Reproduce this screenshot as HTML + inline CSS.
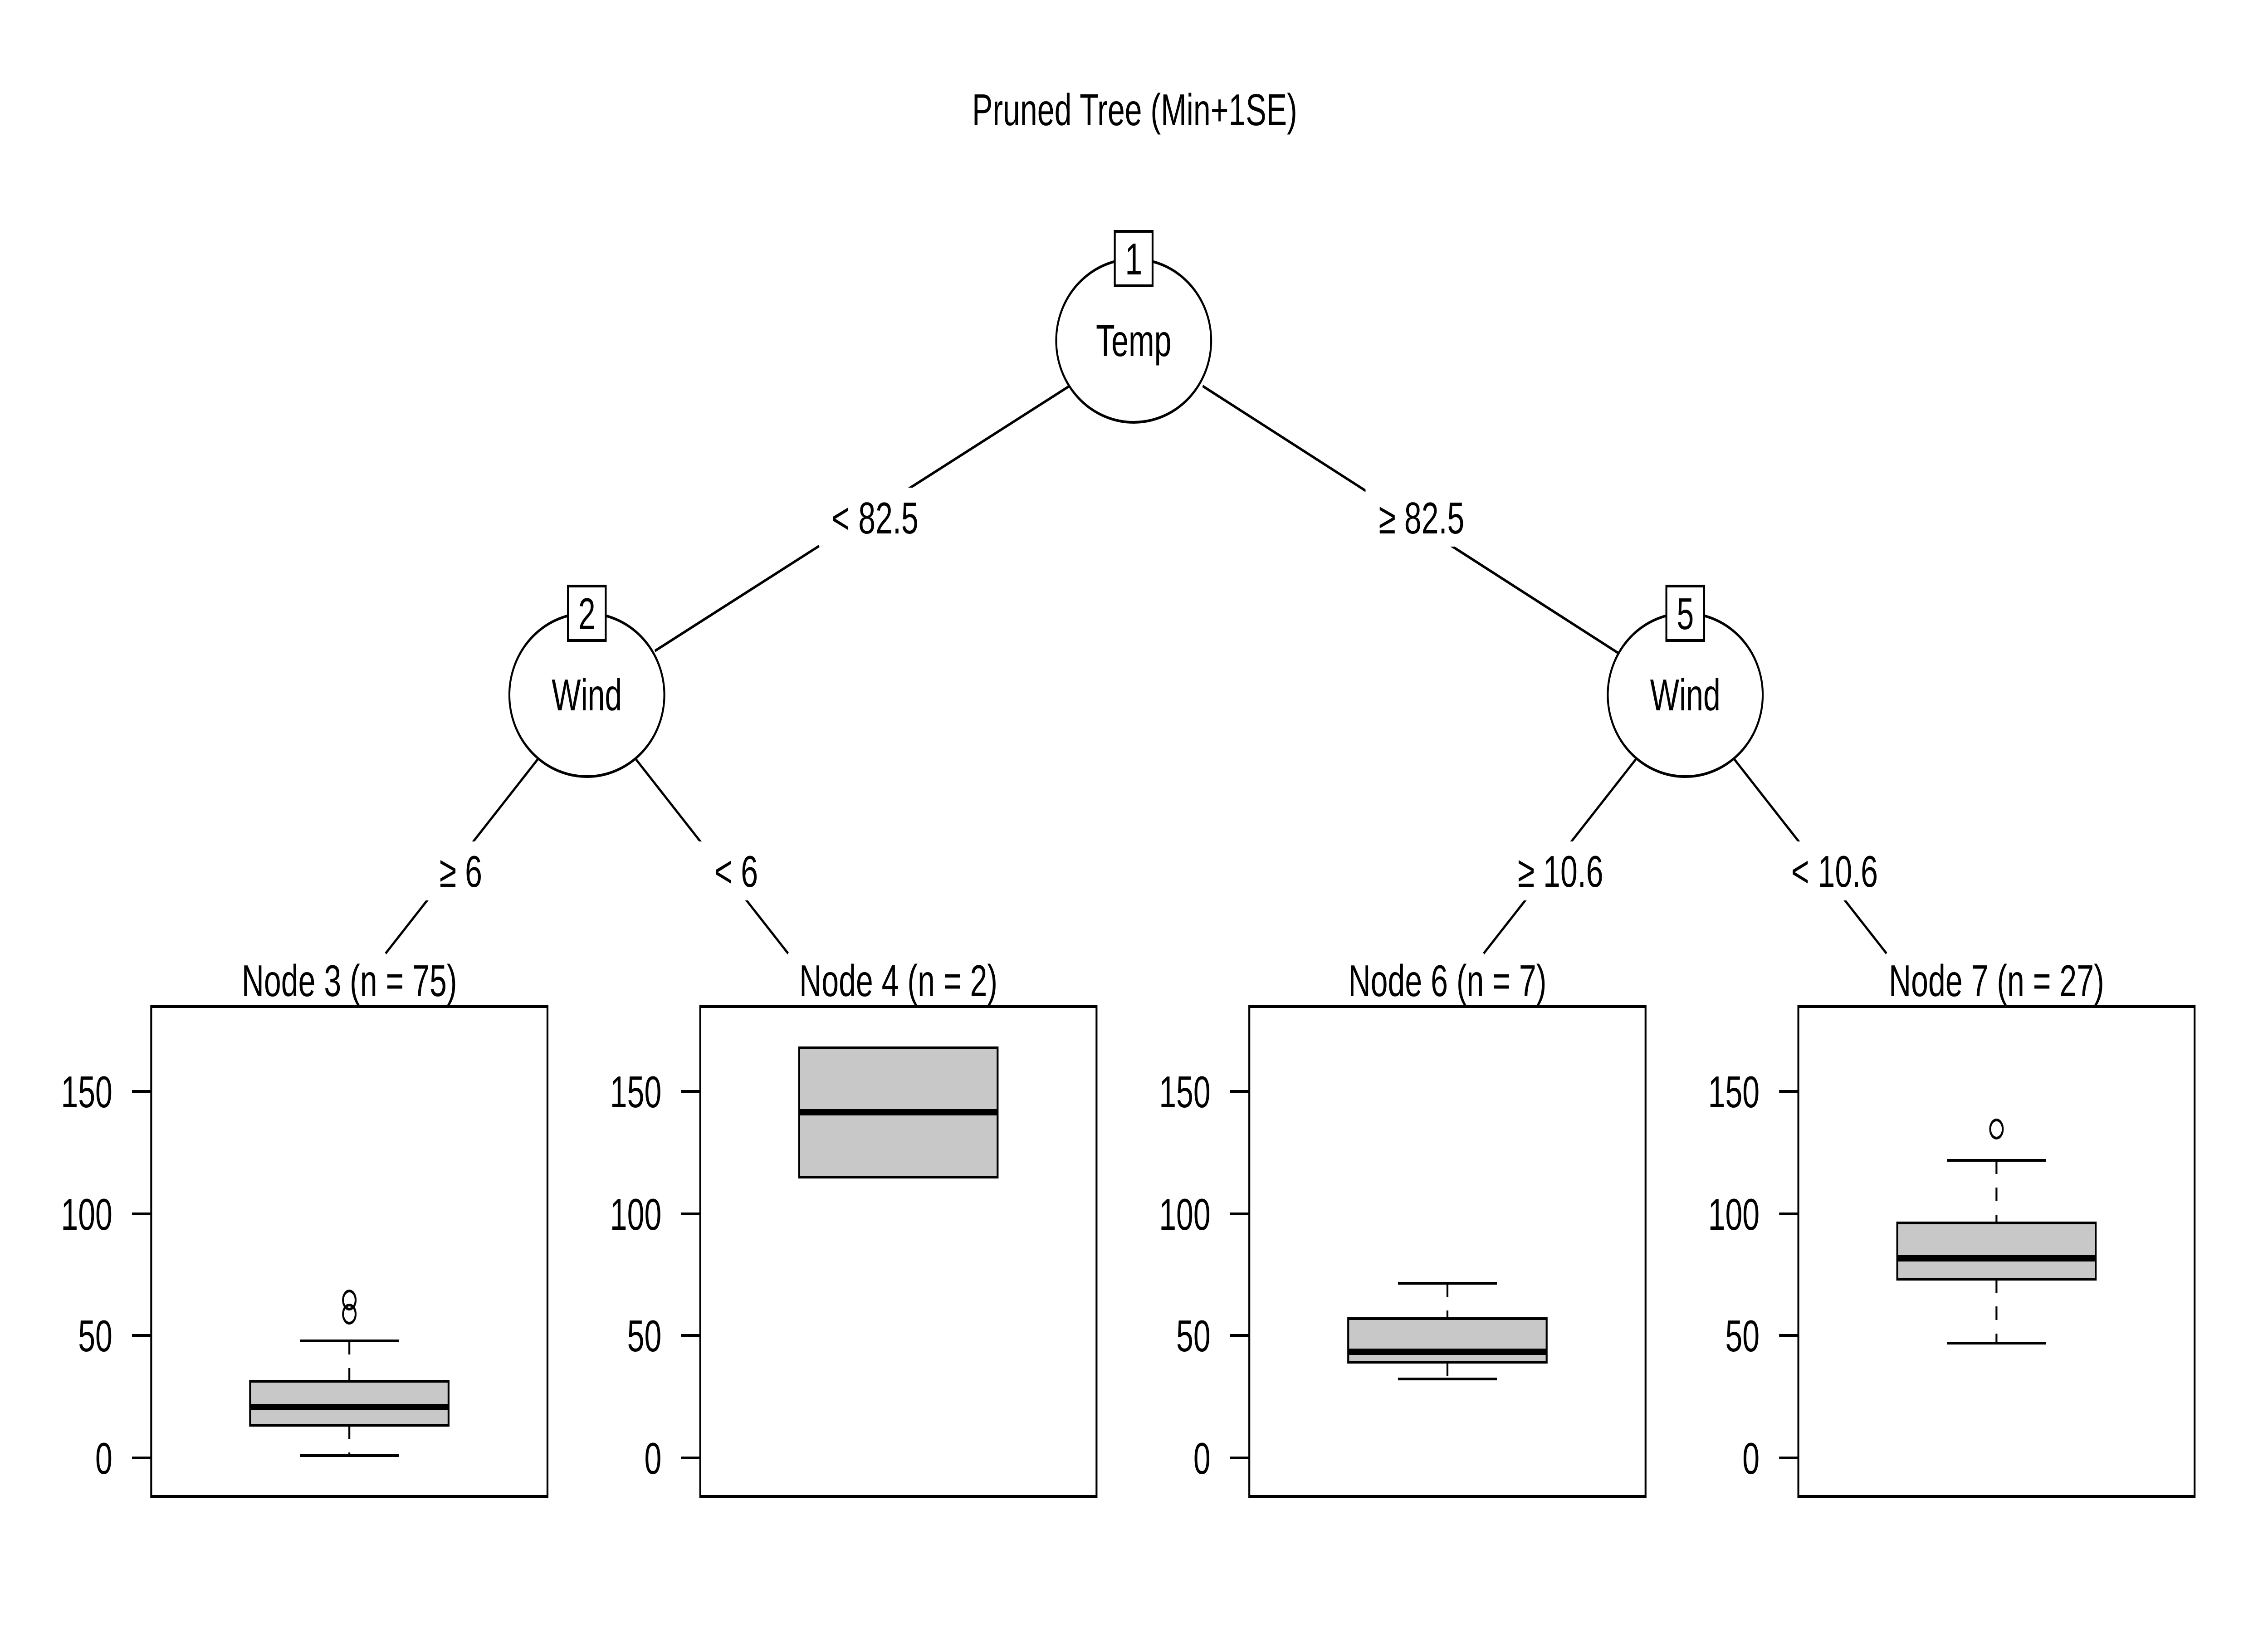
<!DOCTYPE html>
<html><head><meta charset="utf-8"><style>
html,body{margin:0;padding:0;background:#fff;overflow:hidden;width:100vw;height:100vh;}
svg{display:block;width:100vw;height:100vh;}
text{font-family:"Liberation Sans",Arial,sans-serif;font-size:98px;fill:#000;}
</style></head><body>
<svg viewBox="0 0 7200 3600" preserveAspectRatio="none" xmlns="http://www.w3.org/2000/svg">
<rect width="7200" height="3600" fill="#fff"/>
<text x="3602" y="276" text-anchor="middle">Pruned Tree (Min+1SE)</text>
<g stroke="#000" stroke-width="6" fill="none">
<line x1="3395" y1="851" x2="2079" y2="1435"/>
<line x1="3818" y1="851" x2="5138" y2="1440"/>
<line x1="1707" y1="1674" x2="1224" y2="2102"/>
<line x1="2019" y1="1674" x2="2502" y2="2102"/>
<line x1="5193" y1="1674" x2="4710" y2="2102"/>
<line x1="5506" y1="1674" x2="5989" y2="2102"/>
</g>
<g fill="#fff" stroke="none">
<rect x="2600" y="1075" width="356" height="130"/>
<rect x="4335" y="1075" width="356" height="130"/>
<rect x="1340" y="1855" width="246" height="130"/>
<rect x="2214" y="1855" width="246" height="130"/>
<rect x="4770" y="1855" width="368" height="130"/>
<rect x="5640" y="1855" width="368" height="130"/>
</g>
<text x="2778" y="1176" text-anchor="middle">&lt; 82.5</text>
<text x="4513" y="1176" text-anchor="middle">≥ 82.5</text>
<text x="1463" y="1955" text-anchor="middle">≥ 6</text>
<text x="2337" y="1955" text-anchor="middle">&lt; 6</text>
<text x="4954" y="1955" text-anchor="middle">≥ 10.6</text>
<text x="5824" y="1955" text-anchor="middle">&lt; 10.6</text>
<g stroke="#000" stroke-width="6" fill="#fff">
<ellipse cx="3599" cy="751" rx="246" ry="180"/>
<ellipse cx="1863" cy="1532" rx="246" ry="180"/>
<ellipse cx="5350" cy="1532" rx="246" ry="180"/>
<rect x="3539" y="510" width="120" height="120"/>
<rect x="1803" y="1292" width="120" height="120"/>
<rect x="5290" y="1292" width="120" height="120"/>
</g>
<text x="3599" y="785" text-anchor="middle">Temp</text>
<text x="1863" y="1566" text-anchor="middle">Wind</text>
<text x="5350" y="1566" text-anchor="middle">Wind</text>
<text x="3599" y="605" text-anchor="middle">1</text>
<text x="1863" y="1387" text-anchor="middle">2</text>
<text x="5350" y="1387" text-anchor="middle">5</text>

<text x="1109" y="2196" text-anchor="middle">Node 3 (n = 75)</text>
<text x="2852" y="2196" text-anchor="middle">Node 4 (n = 2)</text>
<text x="4595" y="2196" text-anchor="middle">Node 6 (n = 7)</text>
<text x="6338" y="2196" text-anchor="middle">Node 7 (n = 27)</text>

<g stroke="#000" stroke-width="6" fill="none">
<rect x="480" y="2219" width="1258" height="1080"/>
<rect x="2223" y="2219" width="1258" height="1080"/>
<rect x="3966" y="2219" width="1258" height="1080"/>
<rect x="5709" y="2219" width="1258" height="1080"/>
<path d="M419 2406H480M419 2676H480M419 2944H480M419 3214H480"/>
<path d="M2162 2406H2223M2162 2676H2223M2162 2944H2223M2162 3214H2223"/>
<path d="M3905 2406H3966M3905 2676H3966M3905 2944H3966M3905 3214H3966"/>
<path d="M5648 2406H5709M5648 2676H5709M5648 2944H5709M5648 3214H5709"/>
</g>
<g text-anchor="end">
<text x="357" y="2441">150</text><text x="357" y="2711">100</text><text x="357" y="2979">50</text><text x="357" y="3249">0</text>
<text x="2100" y="2441">150</text><text x="2100" y="2711">100</text><text x="2100" y="2979">50</text><text x="2100" y="3249">0</text>
<text x="3843" y="2441">150</text><text x="3843" y="2711">100</text><text x="3843" y="2979">50</text><text x="3843" y="3249">0</text>
<text x="5586" y="2441">150</text><text x="5586" y="2711">100</text><text x="5586" y="2979">50</text><text x="5586" y="3249">0</text>
</g>

<g stroke="#000" stroke-width="6" fill="none">
<path d="M1109 2956V3045M1109 3142V3209" stroke-dasharray="30 30"/>
<path d="M952 2956H1266M952 3209H1266"/>
<rect x="794" y="3045" width="630" height="97" fill="#c8c8c8"/>
<path d="M794 3102H1424" stroke-width="14"/>
<circle cx="1109" cy="2866" r="20"/><circle cx="1109" cy="2897" r="20"/>
<rect x="2537" y="2310" width="630" height="285" fill="#c8c8c8"/>
<path d="M2537 2452H3167" stroke-width="14"/>
<path d="M4595 2829V2907M4595 3003V3040" stroke-dasharray="30 30"/>
<path d="M4438 2829H4752M4438 3040H4752"/>
<rect x="4280" y="2907" width="630" height="96" fill="#c8c8c8"/>
<path d="M4280 2980H4910" stroke-width="14"/>
<path d="M6338 2558V2696M6338 2820V2961" stroke-dasharray="30 30"/>
<path d="M6181 2558H6495M6181 2961H6495"/>
<rect x="6023" y="2696" width="630" height="124" fill="#c8c8c8"/>
<path d="M6023 2774H6653" stroke-width="14"/>
<circle cx="6338" cy="2489" r="20"/>
</g>
</svg>
</body></html>
